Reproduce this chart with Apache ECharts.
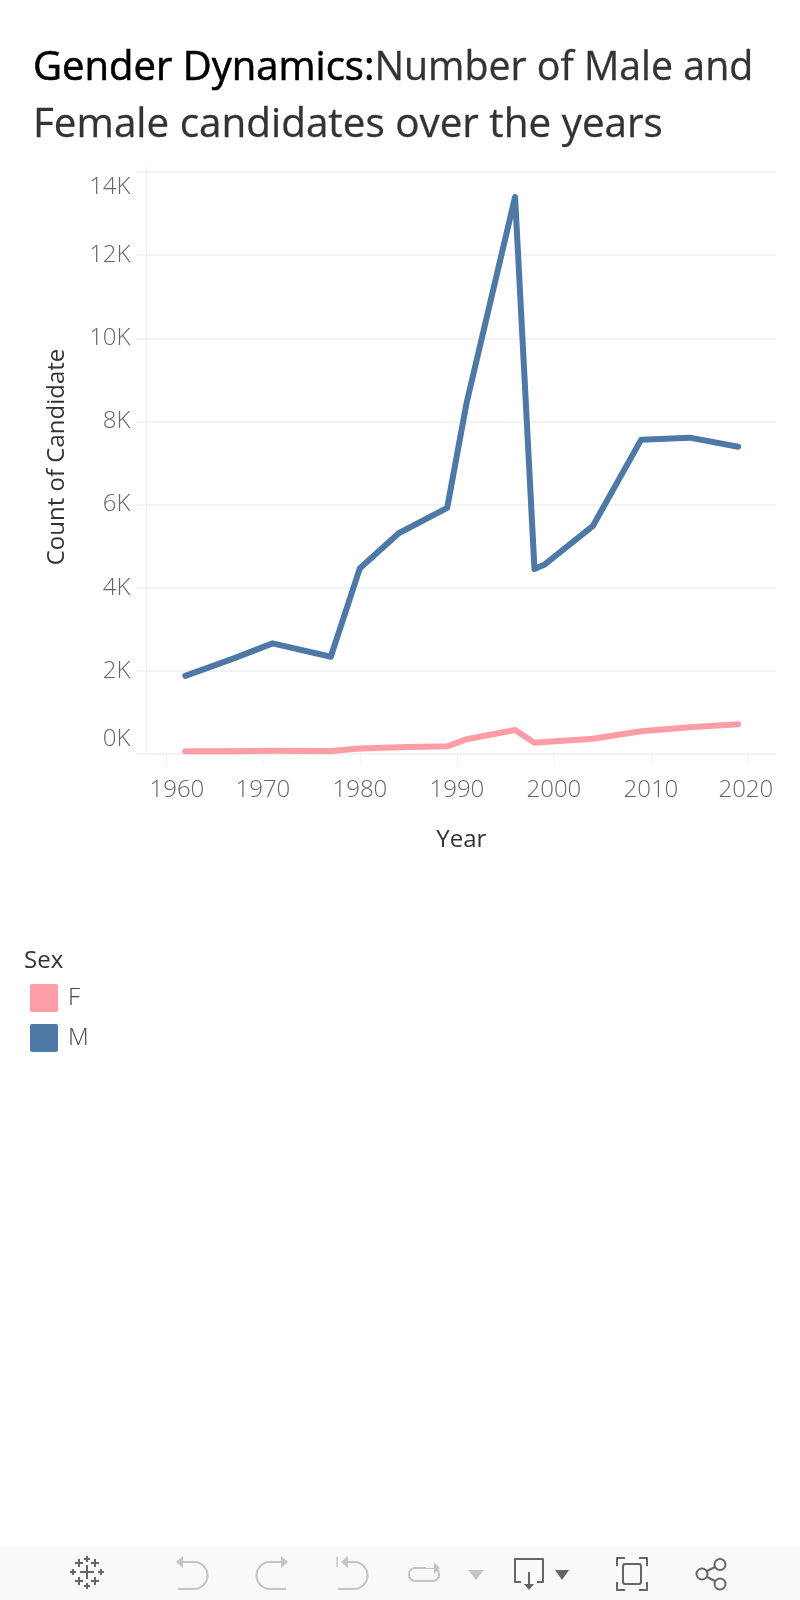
<!DOCTYPE html>
<html><head><meta charset="utf-8">
<style>html,body{margin:0;padding:0;background:#fff}#c{width:800px;height:1600px}</style>
<script src="https://cdn.jsdelivr.net/npm/echarts@6/dist/echarts.min.js"></script>
</head><body><div id="c"></div>
<script>
const years=[1962,1967,1971,1977,1980,1984,1989,1991,1996,1998,1999,2004,2009,2014,2019];
const maleValues=[1880,2300,2660,2340,4470,5310,5920,8446,13400,4450,4550,5480,7562,7610,7390];
const femaleValues=[65,68,80,70,130,160,185,355,578,272,289,368,546,642,715];
const xTicks=[1960,1970,1980,1990,2000,2010,2020];
const seriesNames=['F','M'];
const seriesColors=['#ff9da7','#4e79a7'];
const titleBold='Gender Dynamics:';
const titleRest1='Number of Male and';
const titleRest2='Female candidates over the years';
const FONT='"Open Sans"';
const GRID='#f2f2f2';
const ICON='#666666', ICOFF='#c4c4c4';
function pl(points,c,w){return {type:'polyline',shape:{points},style:{fill:null,stroke:c,lineWidth:w||2,lineJoin:'round'}};}
function tri(points,c){return {type:'polygon',shape:{points},style:{fill:c,stroke:null}};}
function arc(cx,cy,r,a0,a1,c){return {type:'arc',shape:{cx,cy,r,startAngle:a0,endAngle:a1},style:{fill:null,stroke:c,lineWidth:2}};}
function plus(x,y,r,c){return {type:'group',children:[pl([[x-r,y],[x+r,y]],c),pl([[x,y-r],[x,y+r]],c)]};}
const PI=Math.PI;
const tickFont={fontFamily:FONT,fontSize:24,fontWeight:300,color:'#666666'};
const chart=echarts.init(document.getElementById('c'),null,{renderer:'canvas'});
chart.setOption({
 animation:false,
 backgroundColor:'#ffffff',
 textStyle:{fontFamily:FONT},
 title:[{
   left:33,top:41,padding:0,
   text:`{b|${titleBold}}{r|${titleRest1}}\n{s|${titleRest2}}`,
   textStyle:{fontWeight:'normal',rich:{
     b:{fontFamily:FONT,fontSize:40,fontWeight:400,color:'#000000',lineHeight:56,textBorderColor:'#000000',textBorderWidth:0.6},
     r:{fontFamily:FONT,fontSize:39.3,fontWeight:400,color:'#333333',lineHeight:56,textBorderColor:'#333333',textBorderWidth:0.3},
     s:{fontFamily:FONT,fontSize:40.4,fontWeight:400,color:'#333333',lineHeight:56,textBorderColor:'#333333',textBorderWidth:0.3}}}
 },{
   left:24,top:949,padding:0,text:'Sex',
   textStyle:{fontFamily:FONT,fontSize:24,fontWeight:400,color:'#333333'}
 }],
 legend:{
   orient:'vertical',left:30,top:984,padding:0,itemWidth:28,itemHeight:28,itemGap:12,
   icon:'path://M2,0H26Q28,0 28,2V26Q28,28 26,28H2Q0,28 0,26V2Q0,0 2,0Z',data:seriesNames,
   selectedMode:false,
   textStyle:{fontFamily:FONT,fontSize:24,fontWeight:300,color:'#444444',padding:[8,0,0,5]}
 },
 grid:{left:146.5,right:24,top:172,bottom:846,containLabel:false},
 xAxis:{
   type:'value',min:1958,max:2022.9,
   name:'Year',nameLocation:'middle',nameGap:74,
   nameTextStyle:{fontFamily:FONT,fontSize:24,color:'#333333'},
   axisLine:{show:false},
   axisTick:{show:true,length:10,customValues:xTicks,lineStyle:{color:GRID,width:1}},
   axisLabel:{
     customValues:xTicks,margin:24,
     formatter:v=>v===1960?`{l|${v}}`:v===2020?`{e|${v}}`:`{n|${v}}`,
     rich:{
       n:tickFont,
       l:{...tickFont,padding:[0,0,0,22]},
       e:{...tickFont,padding:[0,4,0,0]}
     }
   },
   splitLine:{show:false}
 },
 yAxis:{
   type:'value',min:0,max:14000,interval:2000,
   name:'Count of Candidate',nameLocation:'middle',nameGap:77,
   nameTextStyle:{fontFamily:FONT,fontSize:24,color:'#333333',padding:[0,0,0,12]},
   axisLine:{show:true,lineStyle:{color:GRID,width:1}},
   axisTick:{show:true,length:10,lineStyle:{color:GRID,width:2}},
   axisLabel:{
     margin:16,
     formatter:v=>{const s=(v/1000)+'K';return v===14000?`{t|${s}}`:v===0?`{o|${s}}`:`{n|${s}}`;},
     rich:{
       n:tickFont,
       t:{...tickFont,padding:[30,0,0,0]},
       o:{...tickFont,padding:[0,0,30,0]}
     }
   },
   splitLine:{show:true,lineStyle:{color:GRID,width:2}}
 },
 series:[
  {name:seriesNames[1],type:'line',symbol:'none',data:years.map((y,i)=>[y,maleValues[i]]),
   itemStyle:{color:seriesColors[1]},
   lineStyle:{color:seriesColors[1],width:6,cap:'round',join:'round'},z:3},
  {name:seriesNames[0],type:'line',symbol:'none',data:years.map((y,i)=>[y,femaleValues[i]]),
   itemStyle:{color:seriesColors[0]},
   lineStyle:{color:seriesColors[0],width:6,cap:'round',join:'round'},z:4}
 ],
 graphic:[
  {type:'rect',silent:true,z:-1,shape:{x:0,y:1546,width:800,height:54},style:{fill:'#f9f9f9'}},
  {type:'line',silent:true,shape:{x1:146.5,y1:166,x2:146.5,y2:172},style:{stroke:GRID,lineWidth:1}},
  {type:'group',silent:true,children:[
    plus(87,1572,7,ICON),plus(79,1563,4,ICON),plus(95,1563,4,ICON),plus(79,1581,4,ICON),plus(95,1581,4,ICON),
    plus(87,1559,3,ICON),plus(87,1586,3,ICON),plus(73,1572,3,ICON),plus(101,1572,3,ICON),
    pl([[182,1562],[194,1562]],ICOFF),arc(194,1575.5,13.5,-PI/2,PI/2,ICOFF),pl([[194,1589],[178,1589]],ICOFF),tri([[176,1562],[183,1556],[183,1568]],ICOFF),
    pl([[282,1562],[270,1562]],ICOFF),{type:'arc',shape:{cx:270,cy:1575.5,r:13.5,startAngle:PI/2,endAngle:-PI/2},style:{fill:null,stroke:ICOFF,lineWidth:2}},pl([[270,1589],[286,1589]],ICOFF),tri([[288,1562],[281,1556],[281,1568]],ICOFF),
    pl([[342,1562],[354,1562]],ICOFF),arc(354,1575.5,13.5,-PI/2,PI/2,ICOFF),pl([[354,1589],[338,1589]],ICOFF),tri([[341,1562],[348,1556],[348,1568]],ICOFF),pl([[337,1557],[337,1567]],ICOFF,1.5),
    {type:'rect',shape:{x:409,y:1568,width:30,height:13,r:6},style:{fill:null,stroke:ICOFF,lineWidth:2}},
    {type:'rect',shape:{x:426,y:1562,width:16,height:6},style:{fill:'#f9f9f9'}},
    tri([[440,1568],[434,1562],[434,1574]],ICOFF),
    tri([[468,1570],[484,1570],[476,1580]],ICOFF),
    pl([[521,1582],[515,1582],[515,1559],[543,1559],[543,1582],[537,1582]],ICON),
    pl([[529,1572],[529,1586]],ICON),tri([[524,1584],[534,1584],[529,1590]],ICON),
    tri([[555,1570],[569,1570],[562,1580]],ICON),
    pl([[617,1566],[617,1558],[625,1558]],ICON),pl([[639,1558],[647,1558],[647,1566]],ICON),
    pl([[617,1582],[617,1590],[625,1590]],ICON),pl([[639,1590],[647,1590],[647,1582]],ICON),
    {type:'rect',shape:{x:623,y:1564,width:18,height:20,r:2},style:{fill:null,stroke:ICON,lineWidth:2}},
    {type:'circle',shape:{cx:720,cy:1564.5,r:5.5},style:{fill:null,stroke:ICON,lineWidth:2}},
    {type:'circle',shape:{cx:720,cy:1584,r:5.5},style:{fill:null,stroke:ICON,lineWidth:2}},
    {type:'circle',shape:{cx:702,cy:1574,r:5.5},style:{fill:null,stroke:ICON,lineWidth:2}},
    pl([[707,1571],[715,1567]],ICON),pl([[707,1577],[715,1581]],ICON)
  ]}
 ]
});
</script></body></html>
